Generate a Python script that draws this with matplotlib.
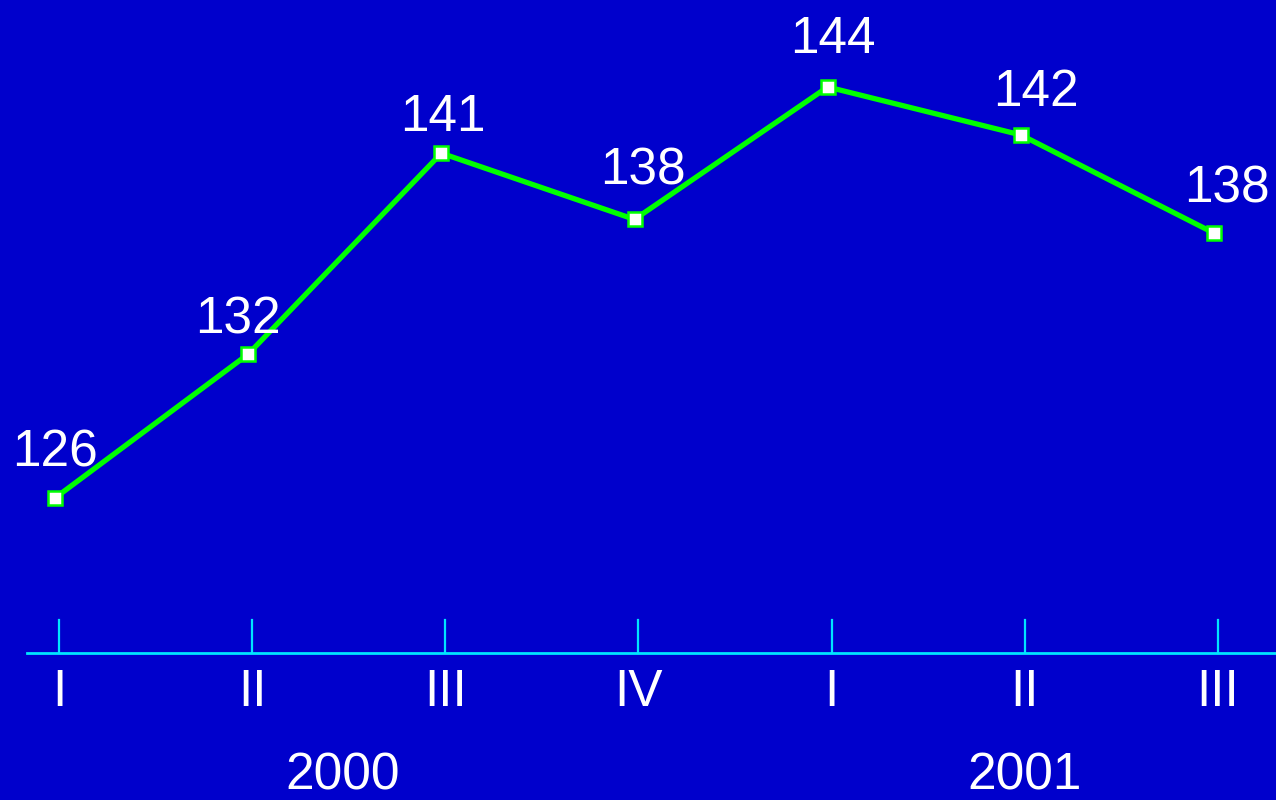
import matplotlib
matplotlib.use('Agg')
from matplotlib import pyplot as plt
from matplotlib import transforms

quarters = ['I', 'II', 'III', 'IV', 'I', 'II', 'III']
values = [126.0, 132.3, 141.1, 138.2, 144.0, 141.9, 137.6]
labels = ['126', '132', '141', '138', '144', '142', '138']
years = ['2000', '2001']
year_pos = [1.49, 5.02]

# label placement relative to each point, in pixels
label_off = [(0, 31), (-10, 21), (2, 22), (8, 35), (5, 34), (15, 29), (13, 31)]

BG = '#0000cc'
LINE = '#00ff00'
AXIS = '#00e5ff'

plt.rcParams['font.family'] = ['Liberation Sans', 'DejaVu Sans']

fig = plt.figure(figsize=(12.76, 8), dpi=100, facecolor=BG)
ax = fig.add_axes([0, 0, 1, 1])
ax.set_facecolor(BG)
ax.axis('off')

x = list(range(len(values)))
ax.plot(x, values, color=LINE, lw=3.8, marker='s', ms=10,
        mfc='white', mec=LINE, mew=1.8, zorder=3)

for xi, v, lab, off in zip(x, values, labels, label_off):
    ax.annotate(lab, (xi, v), xytext=off, textcoords='offset pixels',
                ha='center', va='baseline', color='white', fontsize=37)

ax.set_xlim(-0.285, 6.321)
ax.set_ylim(112.77, 147.81)

# axis line + ticks (x in data, y in axes fraction)
trans = transforms.blended_transform_factory(ax.transData, ax.transAxes)
ax.plot([-0.145, 6.4], [0.184, 0.184], color=AXIS, lw=2, transform=trans, clip_on=False)
for xi, q in zip(x, quarters):
    ax.plot([xi + 0.02, xi + 0.02], [0.184, 0.225], color=AXIS, lw=1.6, transform=trans)
    ax.text(xi + 0.02, 0.135, q, transform=trans, ha='center', va='center',
            color='white', fontsize=37)

for yp, yr in zip(year_pos, years):
    ax.text(yp, 0.03, yr, transform=trans, ha='center', va='center',
            color='white', fontsize=37)

fig.savefig('out.png', dpi=100, facecolor=BG)
